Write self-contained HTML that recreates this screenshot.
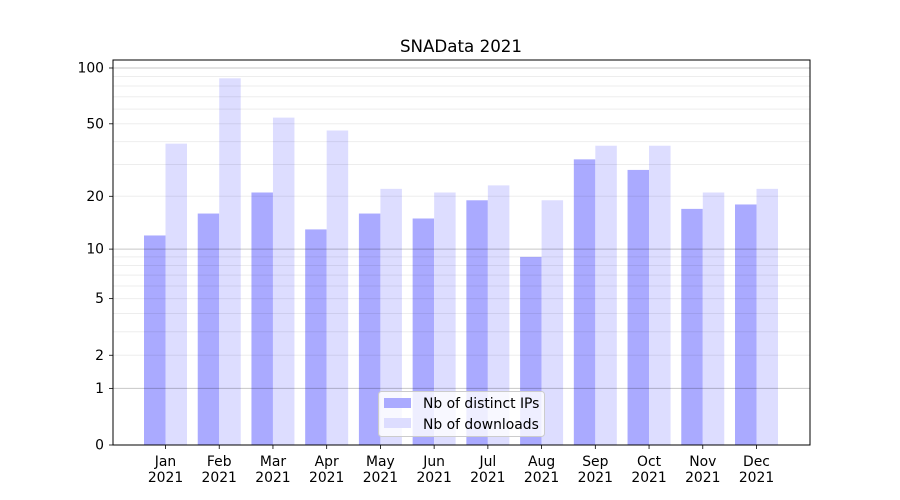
<!DOCTYPE html>
<html><head><meta charset="utf-8"><style>
html,body{margin:0;padding:0;background:#fff;}
svg{display:block;font-family:"DejaVu Sans","Liberation Sans",sans-serif;}
</style></head><body>
<svg id="s" width="900" height="500" viewBox="0 0 900 500" xmlns="http://www.w3.org/2000/svg"></svg>
<script>
const s=document.getElementById('s');
const Y=v=>445-188.1*Math.log10(v+1);
let h='<rect width="900" height="500" fill="#fff"/>';
const ip=[12,16,21,13,16,15,19,9,32,28,17,18];
const dl=[39,88,54,46,22,21,23,19,38,38,21,22];
const m=['Jan','Feb','Mar','Apr','May','Jun','Jul','Aug','Sep','Oct','Nov','Dec'];
const sp=(756.5-165.5)/11, bw=21.5;
for(let i=0;i<12;i++){const c=165.5+i*sp;
h+=`<rect x="${c-bw}" y="${Y(ip[i])}" width="${bw}" height="${445-Y(ip[i])}" fill="#aaaaff"/>`;
h+=`<rect x="${c}" y="${Y(dl[i])}" width="${bw}" height="${445-Y(dl[i])}" fill="#ddddff"/>`;
h+=`<line x1="${c}" x2="${c}" y1="445" y2="449" stroke="#000" stroke-width="0.8"/>`;
h+=`<text x="${c}" y="466" font-size="13.9" text-anchor="middle">${m[i]}</text><text x="${c}" y="482" font-size="13.9" text-anchor="middle">2021</text>`;}
const minor=[2,3,4,5,6,7,8,9,20,30,40,50,60,70,80,90];
minor.forEach(v=>{h+=`<line x1="113" x2="810" y1="${Y(v)}" y2="${Y(v)}" stroke="#000" stroke-opacity="0.07" stroke-width="1"/>`});
[1,10,100].forEach(v=>{h+=`<line x1="113" x2="810" y1="${Y(v)}" y2="${Y(v)}" stroke="#000" stroke-opacity="0.22" stroke-width="1"/>`});
[0,1,2,5,10,20,50,100].forEach(v=>{const y=Y(v);
h+=`<line x1="109" x2="113" y1="${y}" y2="${y}" stroke="#000" stroke-width="0.8"/>`;
h+=`<text x="104" y="${y+4.5}" font-size="13.9" text-anchor="end">${v}</text>`;});
h+='<rect x="113" y="60" width="697" height="385" fill="none" stroke="#000" stroke-width="1"/>';
h+='<text x="461" y="52" font-size="16.7" text-anchor="middle">SNAData 2021</text>';
h+='<rect x="378.5" y="391.5" width="166" height="45" rx="3" fill="#fff" fill-opacity="0.8" stroke="#ccc" stroke-width="1"/>';
h+='<rect x="384" y="398" width="27" height="10" fill="#aaaaff"/><text x="423" y="408" font-size="13.9">Nb of distinct IPs</text>';
h+='<rect x="384" y="418" width="27" height="10" fill="#ddddff"/><text x="423" y="429" font-size="13.9">Nb of downloads</text>';
s.innerHTML=h;
</script>
</body></html>
